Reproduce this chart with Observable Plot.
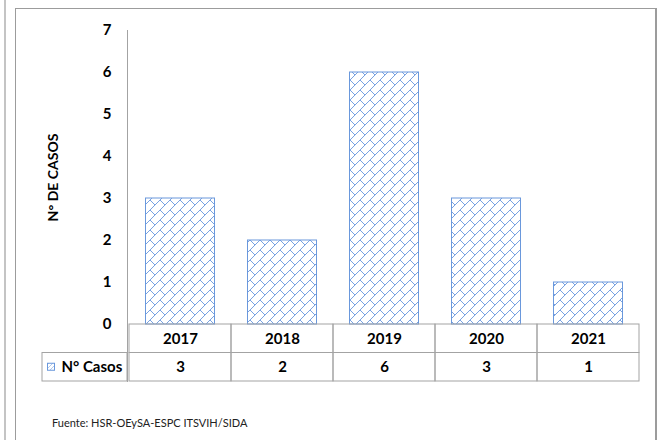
<!DOCTYPE html>
<html><head><meta charset="utf-8">
<script src="https://cdn.jsdelivr.net/npm/d3@7"></script>
<script src="https://cdn.jsdelivr.net/npm/@observablehq/plot@0.6"></script>
<style>
body{margin:0;background:#fff;}
#wrap{position:relative;width:662px;height:440px;overflow:hidden;font-family:Lato,"Open Sans",sans-serif;}
#bar{position:absolute;left:4px;top:0;width:2px;height:440px;background:#c4c4c4;}
#box{position:absolute;left:15px;top:8px;width:639px;height:440px;border-left:1px solid #9c9c9c;border-top:1px solid #9c9c9c;border-right:2px solid #9c9c9c;}
#chart{position:absolute;left:0;top:0;}
#caption{position:absolute;left:52px;top:416px;font-size:11px;color:#222;font-family:Lato,sans-serif;}
</style></head>
<body><div id="wrap"><div id="bar"></div><div id="box"></div><div id="chart"></div><div id="caption"></div></div>
<script>
const years = ["2017", "2018", "2019", "2020", "2021"];
const casos = [3, 2, 6, 3, 1];
const yTicks = [0, 1, 2, 3, 4, 5, 6, 7];
const seriesName = "N° Casos";
const yTitle = "N° DE CASOS";
const captionText = "Fuente: HSR-OEySA-ESPC ITSVIH/SIDA";

const data = years.map((year, i) => ({year, value: casos[i]}));

const blue = "#6a98dc";
const grid = "#a3a3a3";
const fs = 15;
// table rows below the axis, in y units (42px per case)
const unitPx = 42, rowPx = 28.5;
const ROW1 = -rowPx / unitPx, ROW2 = -2 * rowPx / unitPx;

const legendCell = (index, scales, values, dims) => {
  const g = d3.create("svg:g");
  const x0 = dims.marginLeft - 85, x1 = dims.marginLeft;
  const ya = scales.y(ROW1), yb = scales.y(ROW2);
  g.append("rect").attr("x", x0).attr("y", ya).attr("width", x1 - x0).attr("height", yb - ya)
    .attr("fill", "none").attr("stroke", grid);
  const ym = (ya + yb) / 2;
  g.append("rect").attr("x", x0 + 5.5).attr("y", ym - 3.5).attr("width", 7).attr("height", 7)
    .attr("fill", "url(#hatchS)").attr("stroke", blue);
  return g.node();
};

const svg = Plot.plot({
  width: 662,
  height: 400,
  marginLeft: 127,
  marginRight: 21,
  marginTop: 30,
  marginBottom: 19,
  style: {fontFamily: "Lato, 'Open Sans', sans-serif", fontWeight: "bold", fontSize: fs + "px", color: "#000", background: "transparent"},
  x: {domain: years, padding: 0, axis: null},
  y: {domain: [ROW2, 7], axis: null},
  marks: [
    Plot.barY(data, {x: "year", y: "value", fill: "url(#hatch)", stroke: blue, strokeWidth: 1, insetLeft: 16.5, insetRight: 16.5}),
    Plot.rect(data, {x: "year", y1: ROW1, y2: 0, fill: "none", stroke: grid}),
    Plot.rect(data, {x: "year", y1: ROW2, y2: ROW1, fill: "none", stroke: grid}),
    Plot.text(data, {x: "year", y: ROW1 / 2, text: "year", fontSize: fs}),
    Plot.text(data, {x: "year", y: (ROW1 + ROW2) / 2, text: d => String(d.value), fontSize: fs}),
    Plot.axisY({ticks: yTicks, tickSize: 0, tickPadding: 16, fontSize: fs, label: null}),
    Plot.frame({anchor: "left", stroke: grid}),
    Plot.text([yTitle], {frameAnchor: "left", y: 3.5, dx: -74, rotate: -90, textAnchor: "middle", fontSize: 14}),
    legendCell,
    Plot.text([seriesName], {frameAnchor: "left", y: (ROW1 + ROW2) / 2, dx: -66, textAnchor: "start", fontSize: fs})
  ]
});

d3.select(svg).insert("defs", ":first-child").html(
  `<pattern id="hatch" patternUnits="userSpaceOnUse" width="10" height="10">
     <rect width="10" height="10" fill="white"/>
     <path d="M-1,1 L1,-1 M0,10 L10,0 M9,11 L11,9 M0,0 L5,5" stroke="#78a2e2" stroke-width="1" fill="none"/>
   </pattern>
   <pattern id="hatchS" patternUnits="userSpaceOnUse" width="4" height="4">
     <rect width="4" height="4" fill="white"/>
     <path d="M-1,1 L1,-1 M0,4 L4,0 M3,5 L5,3" stroke="#9dbbea" stroke-width="0.8" fill="none"/>
   </pattern>`);

document.getElementById("chart").appendChild(svg);
document.getElementById("caption").textContent = captionText;
</script>
</body></html>
